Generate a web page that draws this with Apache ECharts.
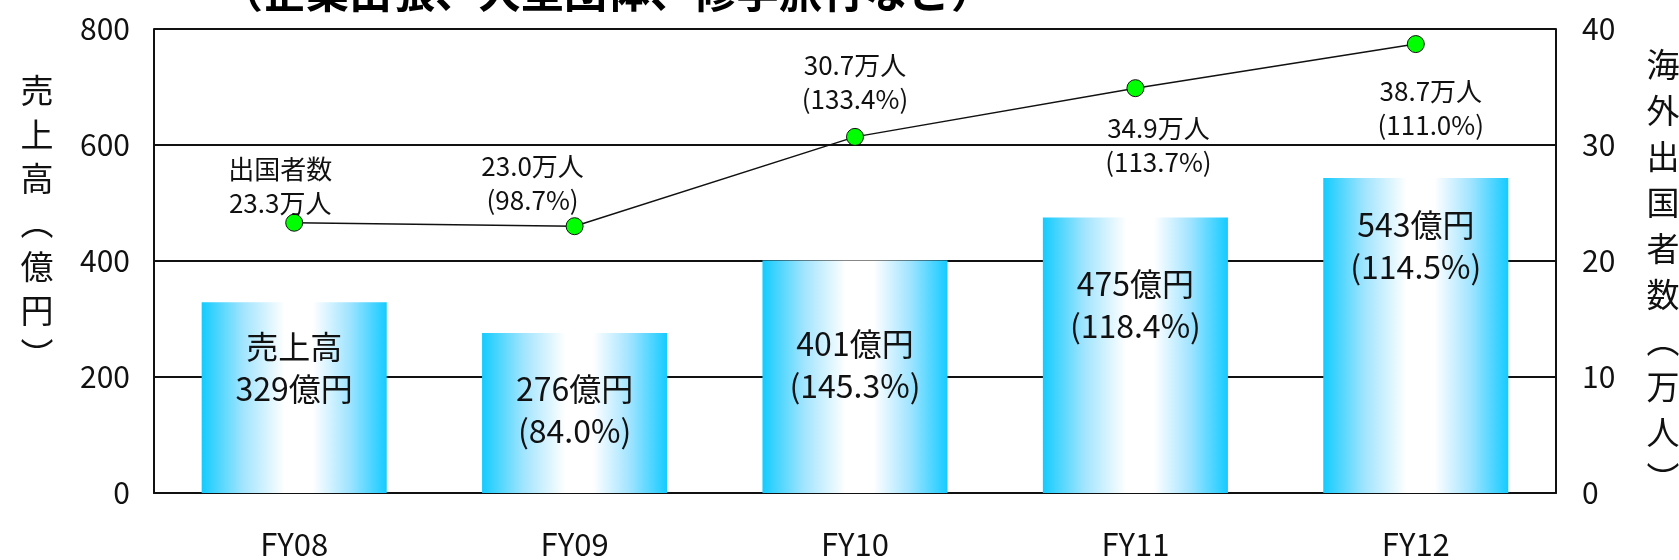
<!DOCTYPE html>
<html>
<head>
<meta charset="utf-8">
<script src="https://cdn.jsdelivr.net/npm/echarts@6/dist/echarts.min.js"></script>
<style>
  html, body { margin: 0; padding: 0; background: #fff; }
  #chart { width: 1679px; height: 560px; }
</style>
</head>
<body>
<div id="chart"></div>
<script>
const categories = ["FY08", "FY09", "FY10", "FY11", "FY12"];
const salesValues = [329, 276, 401, 475, 543];
const salesLabels = [
  "売上高\n329億円",
  "276億円\n(84.0%)",
  "401億円\n(145.3%)",
  "475億円\n(118.4%)",
  "543億円\n(114.5%)",
];
const travelerValues = [23.3, 23.0, 30.7, 34.9, 38.7];
const travelerLabels = [
  "出国者数\n23.3万人",
  "23.0万人\n(98.7%)",
  "30.7万人\n(133.4%)",
  "34.9万人\n(113.7%)",
  "38.7万人\n(111.0%)",
];
const leftAxisTitle = "売上高︵億円︶";
const rightAxisTitle = "海外出国者数︵万人︶";
const titleText = "（企業出張、大型団体、修学旅行など）";

// label placement, tuned by eye
const barLabelDistance = [24, 35, 62, 45, 26];
const lineLabelOffset = [[-14, -37], [-42, -43], [0, -55], [23, 57], [15, 64]];

const FONT = "'Noto Sans CJK JP', 'Noto Sans', sans-serif";
const chart = echarts.init(document.getElementById("chart"), null, { renderer: "canvas" });

const barFill = new echarts.graphic.LinearGradient(0, 0, 1, 0, [
  { offset: 0, color: "#14cbff" },
  { offset: 0.22, color: "#9fe4ff" },
  { offset: 0.45, color: "#ffffff" },
  { offset: 0.6, color: "#ffffff" },
  { offset: 0.8, color: "#9fe4ff" },
  { offset: 1, color: "#14cbff" },
]);

const axisLineStyle = { color: "#111", width: 2 };

chart.setOption({
  animation: false,
  backgroundColor: "#fff",
  textStyle: { fontFamily: FONT, color: "#111" },
  grid: { left: 154, right: 123, top: 29, bottom: 67 },
  graphic: [
    {
      type: "text",
      left: 220,
      top: -30,
      style: { text: titleText, font: "bold 43px " + FONT, fill: "#000" },
    },
    {
      type: "text",
      x: 37,
      y: 222,
      style: {
        text: leftAxisTitle.split("").join("\n"),
        font: "33px " + FONT,
        lineHeight: 44,
        align: "center",
        verticalAlign: "middle",
        fill: "#111",
      },
    },
    {
      type: "text",
      x: 1663,
      y: 271,
      style: {
        text: rightAxisTitle.split("").join("\n"),
        font: "33px " + FONT,
        lineHeight: 46,
        align: "center",
        verticalAlign: "middle",
        fill: "#111",
      },
    },
  ],
  xAxis: {
    type: "category",
    data: categories,
    axisLine: { lineStyle: axisLineStyle },
    axisTick: { inside: true, length: 9, lineStyle: { color: "#111", width: 2 } },
    axisLabel: { fontSize: 31, color: "#111", margin: 36 },
  },
  yAxis: [
    {
      type: "value",
      min: 0,
      max: 800,
      interval: 200,
      axisLine: { show: true, lineStyle: axisLineStyle },
      axisTick: { show: false },
      axisLabel: { fontSize: 30, color: "#111", margin: 24 },
      splitLine: { lineStyle: { color: "#111", width: 2 } },
    },
    {
      type: "value",
      min: 0,
      max: 40,
      interval: 10,
      position: "right",
      axisLine: { show: true, lineStyle: axisLineStyle },
      axisTick: { show: false },
      axisLabel: { fontSize: 30, color: "#111", margin: 26 },
      splitLine: { show: false },
    },
  ],
  series: [
    {
      name: "売上高",
      type: "bar",
      yAxisIndex: 0,
      barWidth: "66%",
      itemStyle: { color: barFill },
      data: salesValues.map((v, i) => ({
        value: v,
        label: {
          show: true,
          position: "insideTop",
          distance: barLabelDistance[i],
          formatter: salesLabels[i],
          fontSize: 32,
          lineHeight: 42,
          color: "#111",
        },
      })),
    },
    {
      name: "海外出国者数",
      type: "line",
      yAxisIndex: 1,
      z: 5,
      symbol: "circle",
      symbolSize: 17,
      lineStyle: { color: "#111", width: 1.5 },
      itemStyle: { color: "#00ff00", borderColor: "#111", borderWidth: 1 },
      data: travelerValues.map((v, i) => ({
        value: v,
        label: {
          show: true,
          position: "inside",
          offset: lineLabelOffset[i],
          formatter: travelerLabels[i],
          fontSize: 26,
          lineHeight: 34,
          color: "#111",
        },
      })),
    },
  ],
});
</script>
</body>
</html>
